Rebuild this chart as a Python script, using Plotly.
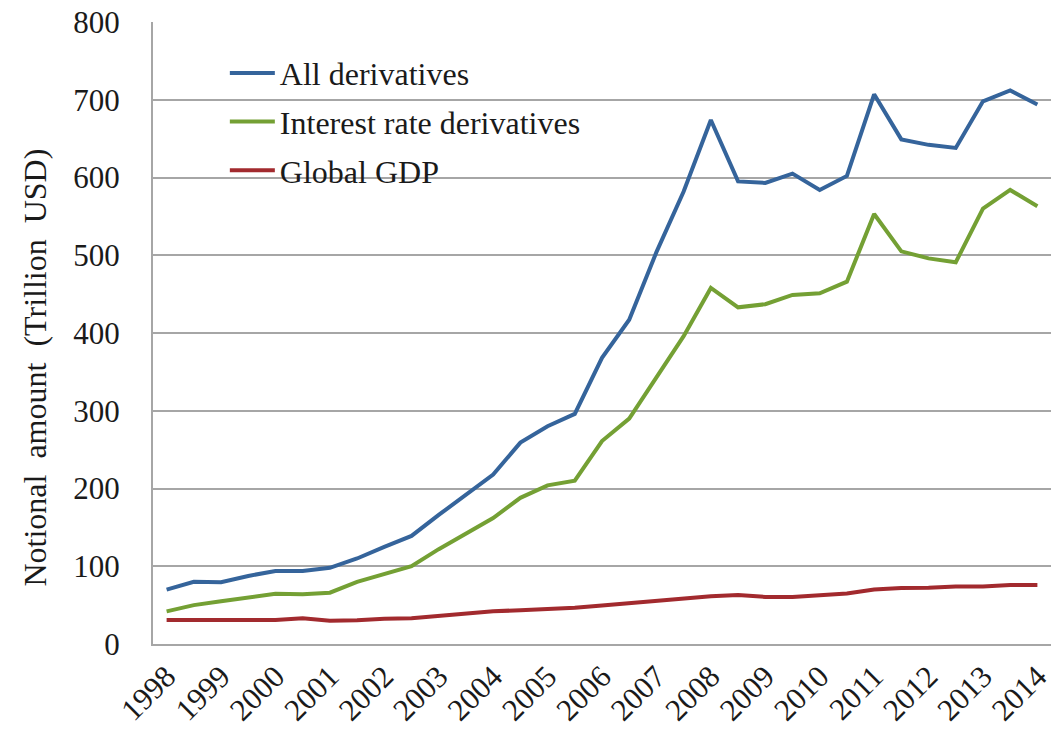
import plotly.graph_objects as go

periods = []
for yr in range(1998, 2015):
    periods.append(f"Jun {yr}")
    if yr < 2014:
        periods.append(f"Dec {yr}")

year_labels = [str(y) for y in range(1998, 2015)]

all_derivatives = [70, 80, 79.5, 87.5, 94, 94, 98, 110, 125, 139, 166, 192, 218, 259, 280, 296,
                   368, 417, 504, 582, 674, 595, 593, 605, 584, 602, 707, 649, 642, 638, 698, 712, 694]
interest_rate = [42, 50, 55, 60, 64.5, 64, 66, 80, 90.5, 100, 122, 142, 162, 188, 204, 210,
                 261, 290, 344, 396, 458, 433, 437, 449, 451, 466, 553, 505, 496, 491, 560, 584, 563]
global_gdp = [31, 31, 31, 31, 31, 33, 30, 30.5, 32.5, 33, 36, 39, 42, 43.5, 45, 46.5,
              49.5, 52.5, 55, 59, 61.5, 63, 60.5, 60.5, 63, 65, 70, 72, 72.5, 74, 74, 76, 76]

series = [
    ("All derivatives", all_derivatives, "#35649B"),
    ("Interest rate derivatives", interest_rate, "#74A034"),
    ("Global GDP", global_gdp, "#A22A2E"),
]

FONT = "Liberation Serif, Times New Roman, serif"
TICK_FS = 31
LEG_FS = 32
TITLE_FS = 32

fig = go.Figure()
for i, (name, vals, col) in enumerate(series):
    fig.add_trace(go.Scatter(
        x=periods, y=vals, mode="lines", name=name,
        line=dict(color=col, width=4), legendgroup=f"g{i}",
    ))

fig.add_annotation(
    text="Notional  amount  (Trillion  USD)", textangle=-90,
    xref="paper", yref="paper", x=-0.131, y=0.445,
    xanchor="center", yanchor="middle", showarrow=False,
    font=dict(size=TITLE_FS, family=FONT, color="#1a1a1a"),
)

fig.update_layout(
    width=1059, height=734,
    margin=dict(l=153, r=5, t=22, b=90),
    plot_bgcolor="white", paper_bgcolor="white",
    font=dict(family=FONT, size=TICK_FS, color="#1a1a1a"),
    showlegend=True,
    legend=dict(
        x=0.08, y=0.962, xanchor="left", yanchor="top",
        bgcolor="rgba(0,0,0,0)", font=dict(size=LEG_FS, family=FONT),
        tracegroupgap=4, itemwidth=45,
    ),
    xaxis=dict(
        type="category", range=[-0.5, len(periods) - 0.5],
        tickmode="array", tickvals=periods[::2], ticktext=year_labels,
        tickangle=-45, showgrid=False, showline=True, linecolor="#A6A6A6",
        linewidth=2, ticks="", tickfont=dict(size=TICK_FS, family=FONT),
    ),
    yaxis=dict(
        range=[0, 800], dtick=100, showgrid=True, gridcolor="#A6A6A6", gridwidth=2,
        showline=True, linecolor="#A6A6A6", linewidth=2, zeroline=False,
        ticks="", ticklabelstandoff=25, tickfont=dict(size=TICK_FS, family=FONT),
    ),
)

fig.write_html("out.html")
